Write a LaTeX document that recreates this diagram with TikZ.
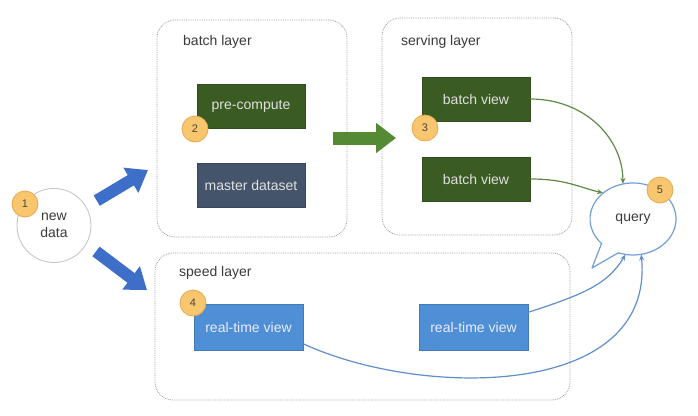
\documentclass[tikz,border=0pt]{standalone}
\usepackage{fontspec}
\setmainfont{Liberation Sans}
\usetikzlibrary{arrows.meta,shapes.geometric}
\definecolor{dkgreen}{HTML}{3A5B22}
\definecolor{slate}{HTML}{44546A}
\definecolor{boxblue}{HTML}{4F8FD6}
\definecolor{bigblue}{HTML}{3E6FC8}
\definecolor{arrgreen}{HTML}{548A33}
\definecolor{lngreen}{HTML}{5E8C45}
\definecolor{lnblue}{HTML}{5F8FCB}
\definecolor{badgefill}{HTML}{F7C66E}
\definecolor{badgeline}{HTML}{E8A94C}
\definecolor{txtgray}{HTML}{3A3A3A}
\definecolor{bordergray}{HTML}{9A9A9A}
\definecolor{bubbleline}{HTML}{6F9FD6}
\begin{document}
\begin{tikzpicture}[x=1pt,y=-1pt,
  txt/.style={font=\fontsize{14}{17}\selectfont},
  layer/.style={draw=bordergray, densely dotted, line width=0.8pt, rounded corners=18pt, inner sep=0pt},
  lbl/.style={txt, anchor=west, text=txtgray, inner sep=0pt},
  procbox/.style={txt, draw=#1!85!black, fill=#1, line width=0.5pt, text=white!88!black, minimum width=108pt, minimum height=44pt, inner sep=0pt},
  rtbox/.style={txt, draw=boxblue!85!black, fill=boxblue, line width=0.5pt, text=white!92!blue, minimum width=109pt, minimum height=46pt, inner sep=0pt},
  badge/.style={circle, fill=badgefill, draw=badgeline, line width=0.8pt, minimum size=26pt, inner sep=0pt, text=txtgray!85!brown, font=\fontsize{11}{12}\selectfont},
  bigarrow/.style={draw=bigblue, line width=12pt, -{Triangle[width=28pt,length=20pt]}},
  greenarrow/.style={draw=arrgreen, line width=13pt, -{Triangle[width=29pt,length=20pt]}},
  glink/.style={draw=lngreen, line width=1.2pt, -{Stealth[length=6pt,width=5pt]}},
  blink/.style={draw=lnblue, line width=1.2pt, -{Stealth[length=6pt,width=5pt]}}
]
\useasboundingbox (0,0) rectangle (698,415);
\fill[white] (0,0) rectangle (698,415);

% layers
\node[layer, minimum width=190pt, minimum height=217pt] (batchL) at (252,128.5) {};
\node[layer, minimum width=190pt, minimum height=217pt] (servL) at (477,126.5) {};
\node[layer, minimum width=415pt, minimum height=147pt] (speedL) at (362.5,326.5) {};
\node[lbl] (batchT) at (183,42) {batch layer};
\node[lbl] (servT) at (401,42) {serving layer};
\node[lbl] (speedT) at (179,273) {speed layer};

% boxes
\node[procbox=dkgreen] (pre) at (251,106) {pre-compute};
\node[procbox=slate] (master) at (251,185) {master dataset};
\node[procbox=dkgreen] (bv1) at (476,99) {batch view};
\node[procbox=dkgreen] (bv2) at (476,179) {batch view};
\node[rtbox] (rtv1) at (248.5,327) {real-time view};
\node[rtbox] (rtv2) at (473.5,327) {real-time view};

% new data
\node[circle, draw=black!22, line width=0.9pt, minimum size=74pt, inner sep=0pt, align=center, txt, text=txtgray] (nd) at (54,225.5) {new\\data};

% query bubble
\node[ellipse, minimum width=86pt, minimum height=72pt, inner sep=0pt, txt, text=txtgray] (query) at (633,219) {};
\draw[draw=bubbleline, line width=1.2pt, fill=white, line join=round]
  (618.3,252.8) arc[start angle=250, end angle=583, x radius=43pt, y radius=36pt] -- (592,268) -- cycle;
\node[txt, text=txtgray] (queryT) at (query.center) {query};

% big arrows
\coordinate (up1) at (148,170);
\coordinate (dn1) at (147,290);
\draw[bigarrow, shorten <=12pt] (nd.30) -- (up1);
\draw[bigarrow, shorten <=12pt] (nd.-30) -- (dn1);

% green arrow
\coordinate (ga) at (333,138);
\coordinate (gb) at (396,138);
\draw[greenarrow] (ga) -- (gb);

% thin connectors
\draw[glink] (bv1.east) .. controls +(55,0) and +(0,-45) .. (query.106);
\draw[glink] (bv2.east) .. controls +(35,0) and +(-25,-6) .. (query.139);
\draw[blink] (rtv2.15) .. controls +(55,-18) and +(-18,30) .. (query.258);
\draw[blink] (rtv1.-17) .. controls (420,398) and (655,400) .. (query.283);

% badges
\node[badge] (b1) at (25,204) {1};
\node[badge] (b2) at (195,129) {2};
\node[badge] (b3) at (425,128) {3};
\node[badge] (b4) at (193,303) {4};
\node[badge] (b5) at (660,190) {5};
\end{tikzpicture}
\end{document}
